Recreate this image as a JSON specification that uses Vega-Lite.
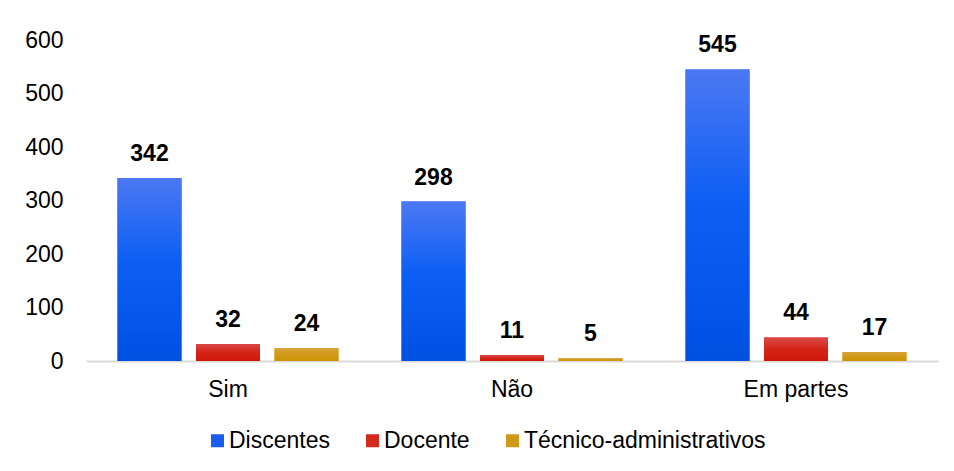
{
  "$schema": "https://vega.github.io/schema/vega-lite/v6.json",
  "width": 852,
  "height": 321,
  "autosize": {"type": "none"},
  "padding": {"left": 86, "top": 40, "right": 16, "bottom": 110},
  "background": "white",
  "config": {
    "view": {"stroke": null},
    "font": "Liberation Sans",
    "axis": {"labelFont": "Liberation Sans", "labelColor": "#000000"},
    "legend": {"labelFont": "Liberation Sans"}
  },
  "data": {
    "values": [
      {"resposta": "Sim", "grupo": "Discentes", "valor": 342},
      {"resposta": "Sim", "grupo": "Docente", "valor": 32},
      {"resposta": "Sim", "grupo": "Técnico-administrativos", "valor": 24},
      {"resposta": "Não", "grupo": "Discentes", "valor": 298},
      {"resposta": "Não", "grupo": "Docente", "valor": 11},
      {"resposta": "Não", "grupo": "Técnico-administrativos", "valor": 5},
      {"resposta": "Em partes", "grupo": "Discentes", "valor": 545},
      {"resposta": "Em partes", "grupo": "Docente", "valor": 44},
      {"resposta": "Em partes", "grupo": "Técnico-administrativos", "valor": 17}
    ]
  },
  "encoding": {
    "x": {
      "field": "resposta",
      "type": "nominal",
      "sort": ["Sim", "Não", "Em partes"],
      "scale": {"paddingInner": 0.222, "paddingOuter": 0.111},
      "axis": {
        "title": null,
        "labelAngle": 0,
        "labelFontSize": 23,
        "labelPadding": 17,
        "ticks": false,
        "domainColor": "#d9d9d9",
        "domainWidth": 2
      }
    },
    "xOffset": {
      "field": "grupo",
      "type": "nominal",
      "sort": ["Discentes", "Docente", "Técnico-administrativos"],
      "scale": {"domain": ["Discentes", "Docente", "Técnico-administrativos"], "paddingInner": 0.185, "paddingOuter": 0}
    },
    "y": {
      "field": "valor",
      "type": "quantitative",
      "scale": {"domain": [0, 600], "nice": false},
      "axis": {
        "title": null,
        "values": [0, 100, 200, 300, 400, 500, 600],
        "grid": false,
        "domain": false,
        "ticks": false,
        "labelFontSize": 23,
        "labelPadding": 23
      }
    }
  },
  "layer": [
    {
      "mark": {"type": "bar"},
      "encoding": {
        "color": {
          "field": "grupo",
          "type": "nominal",
          "sort": ["Discentes", "Docente", "Técnico-administrativos"],
          "scale": {
            "domain": ["Discentes", "Docente", "Técnico-administrativos"],
            "range": ["#1a5cf0", "#d42a1e", "#cf9a1a"]
          },
          "legend": {
            "title": null,
            "orient": "none",
            "direction": "horizontal",
            "legendX": 120,
            "legendY": 389,
            "padding": 0,
            "symbolType": "square",
            "symbolSize": 169,
            "symbolStrokeWidth": 0,
            "symbolOpacity": 1,
            "labelFontSize": 23,
            "labelOffset": 0,
            "labelLimit": 500,
            "columnPadding": 31,
            "labelColor": "#000000"
          }
        }
      }
    },
    {
      "mark": {"type": "bar"},
      "encoding": {
        "color": {
          "condition": [
            {"test": "datum.grupo === 'Discentes'", "value": {"gradient": "linear", "x1": 0, "y1": 0, "x2": 0, "y2": 1, "stops": [{"offset": 0, "color": "#4c78f2"}, {"offset": 0.45, "color": "#0d5ff4"}, {"offset": 1, "color": "#0050e2"}]}},
            {"test": "datum.grupo === 'Docente'", "value": {"gradient": "linear", "x1": 0, "y1": 0, "x2": 0, "y2": 1, "stops": [{"offset": 0, "color": "#da4a48"}, {"offset": 0.5, "color": "#d42418"}, {"offset": 1, "color": "#d01808"}]}}
          ],
          "value": {"gradient": "linear", "x1": 0, "y1": 0, "x2": 0, "y2": 1, "stops": [{"offset": 0, "color": "#d8a23c"}, {"offset": 0.5, "color": "#d09a18"}, {"offset": 1, "color": "#cc9400"}]}
        }
      }
    },
    {
      "mark": {"type": "text", "baseline": "alphabetic", "dy": -17, "fontSize": 23, "fontWeight": "bold", "color": "#000000"},
      "encoding": {
        "text": {"field": "valor", "type": "quantitative"}
      }
    }
  ]
}
